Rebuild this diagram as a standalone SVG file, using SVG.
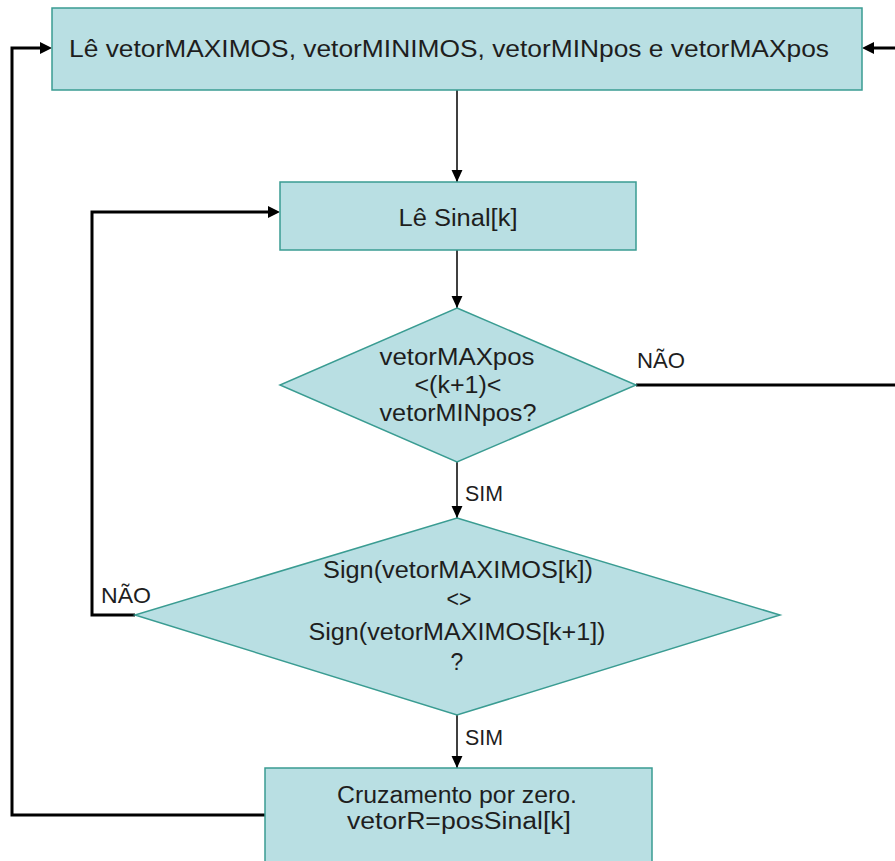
<svg xmlns="http://www.w3.org/2000/svg" width="895" height="861" viewBox="0 0 895 861">
<style>
.box{fill:#b9dfe3;stroke:#3a9c92;stroke-width:1.5}
.t{font-family:"Liberation Sans",Arial,sans-serif;font-size:23px;fill:#1e1e1e;text-anchor:middle}
.l{font-family:"Liberation Sans",Arial,sans-serif;font-size:22px;fill:#1e1e1e}
.c{fill:none;stroke:#000;stroke-width:1.5}
.f{fill:none;stroke:#000;stroke-width:3}
</style>
<defs>
<marker id="ah" markerWidth="12" markerHeight="12" refX="11" refY="5" orient="auto" markerUnits="userSpaceOnUse" viewBox="0 0 11 10">
<path d="M0,0 L11,5 L0,10 Z" fill="#000"/>
</marker>
</defs>
<rect width="895" height="861" fill="#fff"/>
<g id="connectors">
<line class="c" x1="457" y1="90" x2="457" y2="182" marker-end="url(#ah)"/>
<line class="c" x1="457" y1="250" x2="457" y2="308" marker-end="url(#ah)"/>
<line class="c" x1="457" y1="462" x2="457" y2="518" marker-end="url(#ah)"/>
<line class="c" x1="457" y1="715" x2="457" y2="768" marker-end="url(#ah)"/>
<polyline class="f" points="636,385 900,385 900,48 873,48"/>
<path d="M862,48 L874,42 L874,54 Z" fill="#000"/>
<polyline class="f" points="135,615 92,615 92,212 268,212"/>
<path d="M280,212 L268,206 L268,218 Z" fill="#000"/>
<polyline class="f" points="265,815 12,815 12,48 40,48"/>
<path d="M52,48 L40,42 L40,54 Z" fill="#000"/>
<text class="l" x="637" y="368" textLength="48" lengthAdjust="spacingAndGlyphs">NÃO</text>
<text class="l" x="465" y="501" textLength="38" lengthAdjust="spacingAndGlyphs">SIM</text>
<text class="l" x="101" y="603" textLength="50" lengthAdjust="spacingAndGlyphs">NÃO</text>
<text class="l" x="465" y="745" textLength="38" lengthAdjust="spacingAndGlyphs">SIM</text>
</g>
<g id="n1">
<rect class="box" x="52" y="8" width="810" height="82"/>
<text class="t" x="449" y="57" textLength="760" lengthAdjust="spacingAndGlyphs">Lê vetorMAXIMOS, vetorMINIMOS, vetorMINpos e vetorMAXpos</text>
</g>
<g id="n2">
<rect class="box" x="280" y="182" width="356" height="68"/>
<text class="t" x="458" y="226" textLength="119" lengthAdjust="spacingAndGlyphs">Lê Sinal[k]</text>
</g>
<g id="n3">
<polygon class="box" points="457,308 636,385 457,462 280,385"/>
<text class="t" x="457" y="365" textLength="155" lengthAdjust="spacingAndGlyphs">vetorMAXpos</text>
<text class="t" x="458" y="393" textLength="87" lengthAdjust="spacingAndGlyphs">&lt;(k+1)&lt;</text>
<text class="t" x="458" y="421" textLength="157" lengthAdjust="spacingAndGlyphs">vetorMINpos?</text>
</g>
<g id="n4">
<polygon class="box" points="457,518 780,615 457,715 135,615"/>
<text class="t" x="458" y="578" textLength="270" lengthAdjust="spacingAndGlyphs">Sign(vetorMAXIMOS[k])</text>
<text class="t" x="459" y="607" textLength="25" lengthAdjust="spacingAndGlyphs">&lt;&gt;</text>
<text class="t" x="457" y="640" textLength="297" lengthAdjust="spacingAndGlyphs">Sign(vetorMAXIMOS[k+1])</text>
<text class="t" x="457" y="670">?</text>
</g>
<g id="n5">
<rect class="box" x="265" y="768" width="387" height="100"/>
<text class="t" x="457" y="803" textLength="240" lengthAdjust="spacingAndGlyphs">Cruzamento por zero.</text>
<text class="t" x="459" y="829" textLength="224" lengthAdjust="spacingAndGlyphs">vetorR=posSinal[k]</text>
</g>
</svg>
